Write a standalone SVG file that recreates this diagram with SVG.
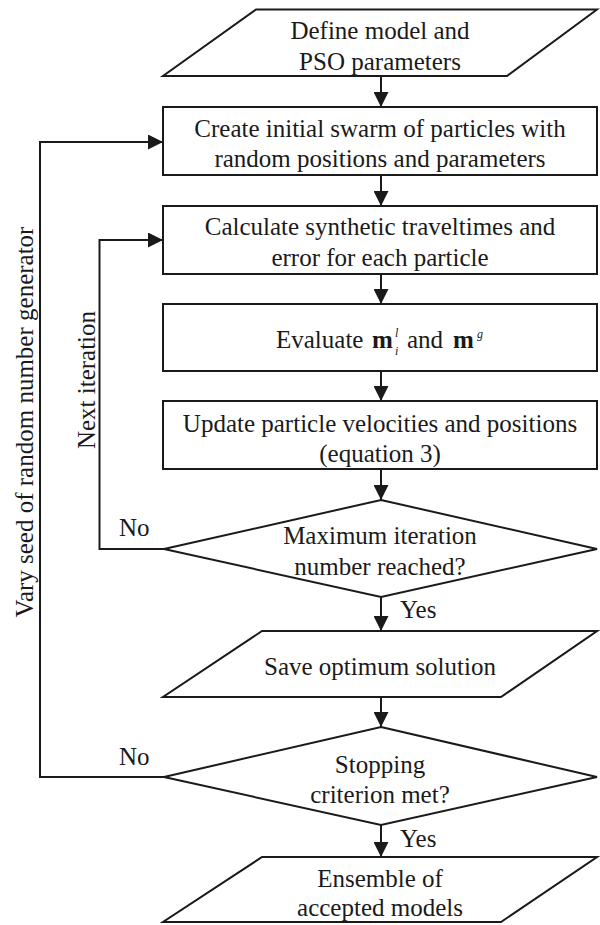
<svg xmlns="http://www.w3.org/2000/svg" width="600" height="925" viewBox="0 0 600 925">
<style>
  .shape { fill: #ffffff; stroke: #1a1a1a; stroke-width: 2; }
  .conn { fill: none; stroke: #1a1a1a; stroke-width: 2; }
  text { font-family: "Liberation Serif", "Times New Roman", serif; font-size: 25px; fill: #1a1a1a; }
  .c { text-anchor: middle; }
  .idx { font-size: 12px; font-style: italic; }
</style>
<defs>
  <marker id="arrow" markerWidth="16" markerHeight="15" refX="15" refY="7.5" orient="auto" markerUnits="userSpaceOnUse">
    <path d="M0,0 L15,7.5 L0,15 Z" fill="#1a1a1a"/>
  </marker>
</defs>
<rect width="600" height="925" fill="#ffffff"/>

<g id="connectors">
  <line class="conn" x1="381" y1="76" x2="381" y2="107" marker-end="url(#arrow)"/>
  <line class="conn" x1="381" y1="175" x2="381" y2="206" marker-end="url(#arrow)"/>
  <line class="conn" x1="381" y1="274" x2="381" y2="304" marker-end="url(#arrow)"/>
  <line class="conn" x1="381" y1="371" x2="381" y2="401" marker-end="url(#arrow)"/>
  <line class="conn" x1="381" y1="469" x2="381" y2="500" marker-end="url(#arrow)"/>
  <line class="conn" x1="381" y1="597" x2="381" y2="631" marker-end="url(#arrow)"/>
  <line class="conn" x1="381" y1="697" x2="381" y2="727" marker-end="url(#arrow)"/>
  <line class="conn" x1="381" y1="825" x2="381" y2="857" marker-end="url(#arrow)"/>
  <polyline class="conn" points="164,549 99.5,549 99.5,240 163,240" marker-end="url(#arrow)"/>
  <polyline class="conn" points="164,777 40,777 40,142 163,142" marker-end="url(#arrow)"/>
  <text x="400" y="618">Yes</text>
  <text x="400" y="847">Yes</text>
  <text x="119" y="536">No</text>
  <text x="119" y="765">No</text>
  <text class="c" transform="translate(95,380) rotate(-90)">Next iteration</text>
  <text class="c" transform="translate(33,422) rotate(-90)">Vary seed of random number generator</text>
</g>

<g id="define">
  <polygon class="shape" points="256,9.5 597,9.5 507,76 163,76"/>
  <text class="c" x="380" y="39">Define model and</text>
  <text class="c" x="380" y="70">PSO parameters</text>
</g>

<g id="create">
  <rect class="shape" x="163" y="107" width="434" height="68"/>
  <text class="c" x="380" y="137">Create initial swarm of particles with</text>
  <text class="c" x="380" y="167">random positions and parameters</text>
</g>

<g id="calculate">
  <rect class="shape" x="163" y="206" width="434" height="68"/>
  <text class="c" x="380" y="235">Calculate synthetic traveltimes and</text>
  <text class="c" x="380" y="266">error for each particle</text>
</g>

<g id="evaluate">
  <rect class="shape" x="163" y="304" width="434" height="67"/>
  <text x="276" y="348">Evaluate</text>
  <text x="372" y="348" font-weight="bold">m</text>
  <text class="idx" x="395" y="337">l</text>
  <text class="idx" x="395" y="355">i</text>
  <text x="407" y="348">and</text>
  <text x="453" y="348" font-weight="bold">m</text>
  <text class="idx" x="477" y="338">g</text>
</g>

<g id="update">
  <rect class="shape" x="163" y="401" width="434" height="68"/>
  <text class="c" x="380" y="432">Update particle velocities and positions</text>
  <text class="c" x="380" y="462">(equation 3)</text>
</g>

<g id="maxiter">
  <polygon class="shape" points="381,500 597,549 381,597 164,549"/>
  <text class="c" x="380" y="544">Maximum iteration</text>
  <text class="c" x="380" y="575">number reached?</text>
</g>

<g id="save">
  <polygon class="shape" points="262,631 597,631 501,697 163,697"/>
  <text class="c" x="380" y="675">Save optimum solution</text>
</g>

<g id="stopping">
  <polygon class="shape" points="381,727 597,777 381,825 164,777"/>
  <text class="c" x="380" y="773">Stopping</text>
  <text class="c" x="380" y="803">criterion met?</text>
</g>

<g id="ensemble">
  <polygon class="shape" points="262,857 597,857 501,922 163,922"/>
  <text class="c" x="380" y="887">Ensemble of</text>
  <text class="c" x="380" y="916">accepted models</text>
</g>
</svg>
